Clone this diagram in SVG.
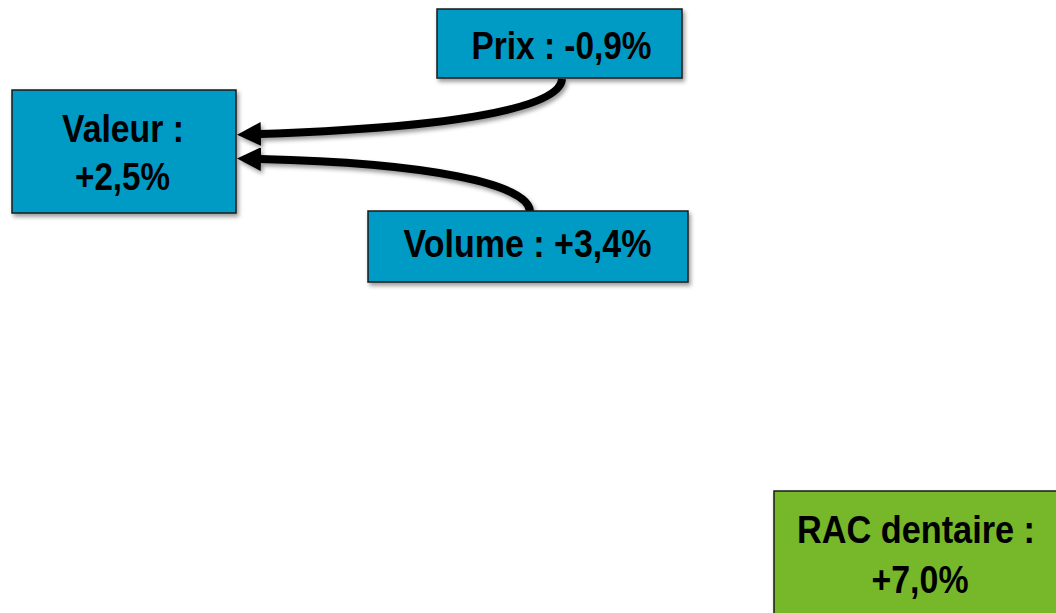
<svg xmlns="http://www.w3.org/2000/svg" width="1056" height="613" viewBox="0 0 1056 613">
  <defs>
    <filter id="shadow" x="-10%" y="-20%" width="130%" height="150%">
      <feDropShadow dx="2" dy="3" stdDeviation="2" flood-color="#000" flood-opacity="0.4"/>
    </filter>
    <marker id="arrow" markerUnits="userSpaceOnUse" markerWidth="26" markerHeight="26" refX="1" refY="12" orient="auto">
      <path d="M0,0 L24,12 L0,24 Z" fill="#000"/>
    </marker>
    <style>
      .box { stroke: #1a1a1a; stroke-width: 1.5; filter: url(#shadow); }
      .blue { fill: #009BC4; }
      .green { fill: #76B82A; }
      .lbl { font-family: "Liberation Sans Narrow", "Liberation Sans", Arial, sans-serif; font-weight: bold; font-size: 39px; fill: #000; text-anchor: middle; }
      .conn { fill: none; stroke: #000; stroke-width: 8; marker-end: url(#arrow); filter: url(#shadow); }
    </style>
  </defs>
  <rect width="1056" height="613" fill="#fff"/>

  <g id="connectors">
    <path class="conn" d="M562,79 C560,112 430,128 260,134"/>
    <path class="conn" d="M530,211 C528,184 430,163 260,159"/>
  </g>

  <g id="valeur">
    <rect class="box blue" x="12" y="90" width="224" height="123"/>
    <text class="lbl" x="123" y="142" textLength="122" lengthAdjust="spacingAndGlyphs">Valeur :</text>
    <text class="lbl" x="122.5" y="190" textLength="95" lengthAdjust="spacingAndGlyphs">+2,5%</text>
  </g>

  <g id="prix">
    <rect class="box blue" x="437" y="9" width="245" height="69"/>
    <text class="lbl" x="561.5" y="59" textLength="180" lengthAdjust="spacingAndGlyphs">Prix : -0,9%</text>
  </g>

  <g id="volume">
    <rect class="box blue" x="368" y="211" width="320" height="71"/>
    <text class="lbl" x="527.5" y="257" textLength="248" lengthAdjust="spacingAndGlyphs">Volume : +3,4%</text>
  </g>

  <g id="rac">
    <rect class="box green" x="774" y="491" width="290" height="130"/>
    <text class="lbl" x="916" y="543" textLength="238" lengthAdjust="spacingAndGlyphs">RAC dentaire :</text>
    <text class="lbl" x="920" y="593" textLength="97" lengthAdjust="spacingAndGlyphs">+7,0%</text>
  </g>
</svg>
